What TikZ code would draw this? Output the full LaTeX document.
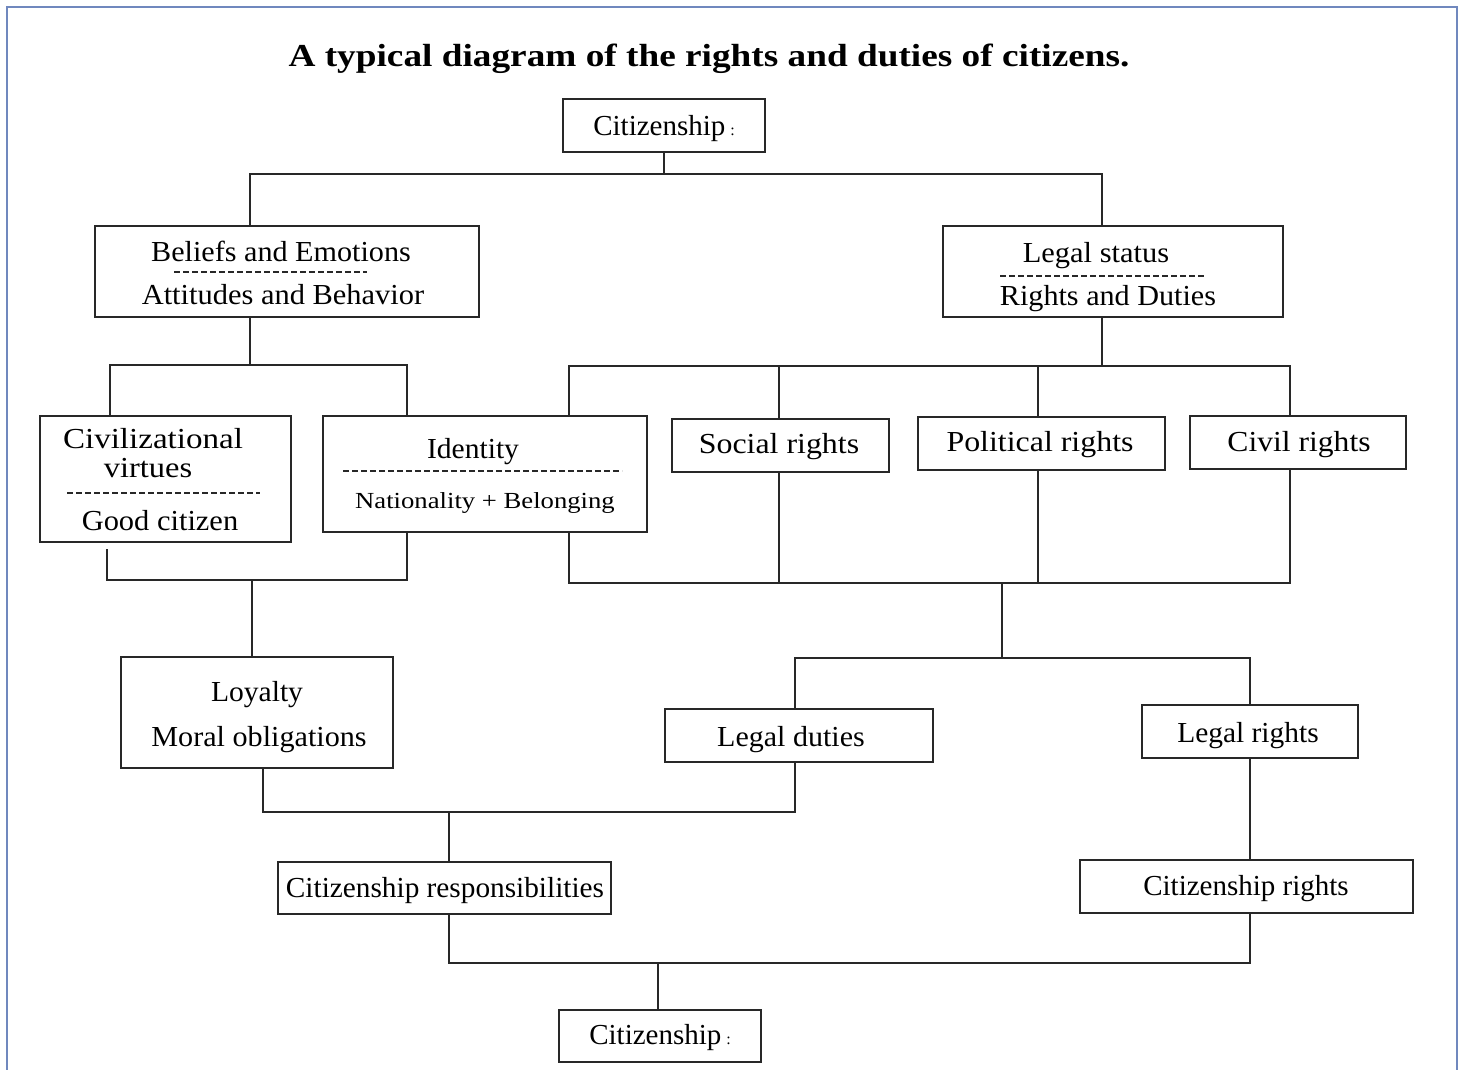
\documentclass[tikz,border=0pt]{standalone}
\usepackage{fontspec}
\setmainfont{Liberation Serif}
\definecolor{frame}{RGB}{112,136,190}
\definecolor{ln}{RGB}{40,40,40}
\newcommand{\sx}[2]{\scalebox{#1}[1]{#2}}
\begin{document}
\begin{tikzpicture}[x=1pt,y=-1pt,
  box/.style={draw=ln,line width=1.6pt,inner sep=0pt,rectangle},
  con/.style={draw=ln,line width=1.6pt},
  sep/.style={draw=ln,line width=1.2pt,dash pattern=on 6pt off 3pt},
  txt/.style={inner sep=0pt,yshift=-3pt,font=\fontsize{29}{34}\selectfont},
  sm/.style={inner sep=0pt,yshift=-2pt,font=\fontsize{23}{28}\selectfont}]
\useasboundingbox (0,0) rectangle (1463,1069);
\draw[frame,line width=1.6pt] (7,1075) -- (7,7) -- (1457,7) -- (1457,1075);
\node[inner sep=0pt,yshift=-2pt,font=\fontsize{32}{38}\selectfont\bfseries] (title) at (709,57) {\sx{1.165}{A typical diagram of the rights and duties of citizens.}};
% boxes
\node[box,minimum width=202pt,minimum height=53pt] (cit1) at (664,125.5) {};
\node[box,minimum width=384pt,minimum height=91pt] (beliefs) at (287,271.5) {};
\node[box,minimum width=340pt,minimum height=91pt] (legal) at (1113,271.5) {};
\node[box,minimum width=251pt,minimum height=126pt] (civ) at (165.5,479) {};
\node[box,minimum width=324pt,minimum height=116pt] (ident) at (485,474) {};
\node[box,minimum width=217pt,minimum height=53pt] (social) at (780.5,445.5) {};
\node[box,minimum width=247pt,minimum height=53pt] (polit) at (1041.5,443.5) {};
\node[box,minimum width=216pt,minimum height=53pt] (civil) at (1298,442.5) {};
\node[box,minimum width=272pt,minimum height=111pt] (loyal) at (257,712.5) {};
\node[box,minimum width=268pt,minimum height=53pt] (lduties) at (799,735.5) {};
\node[box,minimum width=216pt,minimum height=53pt] (lrights) at (1250,731.5) {};
\node[box,minimum width=333pt,minimum height=52pt] (cresp) at (444.5,888) {};
\node[box,minimum width=333pt,minimum height=53pt] (crights) at (1246.5,886.5) {};
\node[box,minimum width=202pt,minimum height=52pt] (cit2) at (660,1036) {};
% texts
\node[txt] (t1) at (664,126) {Citizenship\,{\fontsize{16}{18}\selectfont :}};
\node[txt] (t2a) at (281,248) {\sx{1.04}{Beliefs and Emotions}};
\draw[sep] (174,272) -- (367,272);
\node[txt] (t2b) at (283,292) {\sx{1.05}{Attitudes and Behavior}};
\node[txt] (t3a) at (1096,253) {\sx{1.05}{Legal status}};
\draw[sep] (1000,276) -- (1206,276);
\node[txt] (t3b) at (1108,296) {\sx{1.04}{Rights and Duties}};
\node[txt] (t4a) at (153,436) {\sx{1.14}{Civilizational}};
\node[txt] (t4b) at (148,465) {\sx{1.12}{virtues}};
\draw[sep] (67,493) -- (260,493);
\node[txt] (t4c) at (160,518) {\sx{1.05}{Good citizen}};
\node[txt] (t5a) at (473,449) {\sx{1.02}{Identity}};
\draw[sep] (343,471) -- (622,471);
\node[sm] (t5b) at (485,501) {\sx{1.16}{Nationality + Belonging}};
\node[txt] (t6) at (779,444) {\sx{1.1}{Social rights}};
\node[txt] (t7) at (1040,442) {\sx{1.1}{Political rights}};
\node[txt] (t8) at (1299,442) {\sx{1.09}{Civil rights}};
\node[txt] (t9a) at (257,692) {\sx{1.02}{Loyalty}};
\node[txt] (t9b) at (259,737) {\sx{1.04}{Moral obligations}};
\node[txt] (t10) at (791,737) {\sx{1.035}{Legal duties}};
\node[txt] (t11) at (1248,733) {\sx{1.015}{Legal rights}};
\node[txt] (t12) at (445,888) {\sx{1.01}{Citizenship responsibilities}};
\node[txt] (t13) at (1246,886) {Citizenship rights};
\node[txt] (t14) at (660,1035) {Citizenship\,{\fontsize{16}{18}\selectfont :}};
% connectors
\draw[con] (cit1.south) -- (664,174) coordinate (j1);
\draw[con] (beliefs.north -| 250,0) |- (j1) -| (legal.north -| 1102,0);
\draw[con] (beliefs.south -| 250,0) -- (250,365) coordinate (j2);
\draw[con] (civ.north -| 110,0) |- (j2) -| (ident.north -| 407,0);
\draw[con] (legal.south -| 1102,0) -- (1102,366) coordinate (j3);
\draw[con] (ident.north -| 569,0) |- (j3) -| (civil.north -| 1290,0);
\draw[con] (social.north -| 779,0) -- (779,366);
\draw[con] (polit.north -| 1038,0) -- (1038,366);
\draw[con] (ident.south -| 569,0) |- (1290,583) coordinate (j4) -- (civil.south -| 1290,0);
\draw[con] (social.south -| 779,0) -- (779,583);
\draw[con] (polit.south -| 1038,0) -- (1038,583);
\draw[con] (1002,583) coordinate (j5) -- (1002,658) coordinate (j6);
\draw[con] (lduties.north -| 795,0) |- (j6) -| (lrights.north -| 1250,0);
\draw[con] (107,549) -- (107,580) -- (407,580) coordinate (j7) -- (ident.south -| 407,0);
\draw[con] (252,580) -- (loyal.north -| 252,0);
\draw[con] (loyal.south -| 263,0) -- (263,812) -- (795,812) -- (lduties.south -| 795,0);
\draw[con] (449,812) -- (cresp.north -| 449,0);
\draw[con] (lrights.south -| 1250,0) -- (crights.north -| 1250,0);
\draw[con] (cresp.south -| 449,0) -- (449,963) -- (1250,963) -- (crights.south -| 1250,0);
\draw[con] (658,963) -- (cit2.north -| 658,0);
\end{tikzpicture}
\end{document}
